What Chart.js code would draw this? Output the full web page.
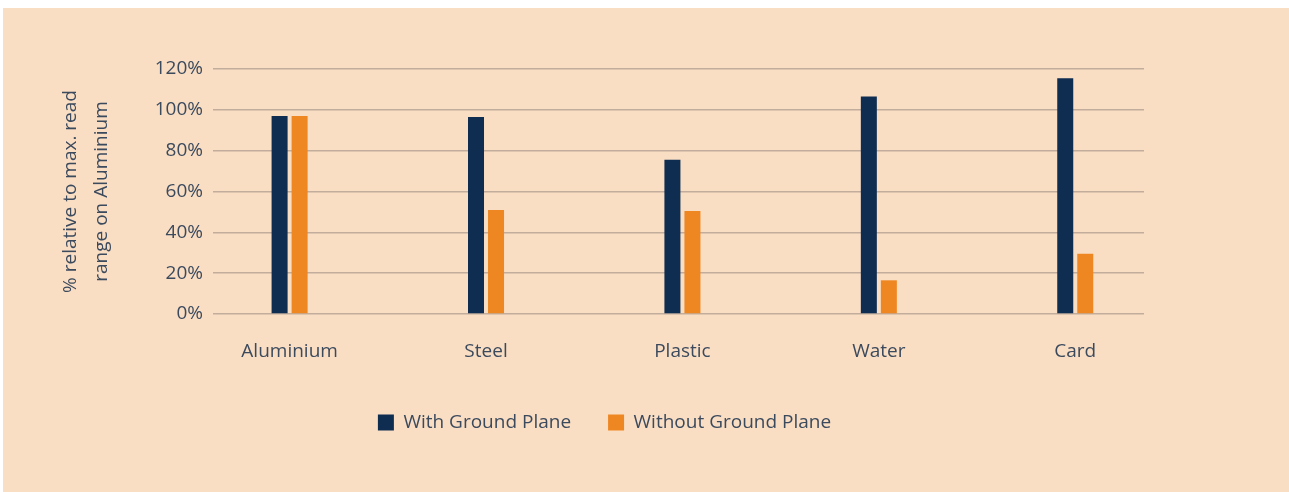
<!DOCTYPE html>
<html>
<head>
<meta charset="utf-8">
<script src="https://cdn.jsdelivr.net/npm/chart.js@4"></script>
<style>
  html, body { margin: 0; padding: 0; background: #ffffff; }
  #wrap { position: absolute; left: 3px; top: 8px; width: 1286px; height: 484px; background: #FADEC4; }
  canvas { display: block; }
</style>
</head>
<body>
<div id="wrap"><canvas id="c" width="1286" height="484"></canvas></div>
<script>
const categories = ["Aluminium", "Steel", "Plastic", "Water", "Card"];
const withGroundPlane = [97, 96.5, 75.5, 106.5, 115.5];
const withoutGroundPlane = [97, 51, 50.5, 16.5, 29.5];
const yTicks = [0, 20, 40, 60, 80, 100, 120];

const TEXT = '#3B4A5D';
const FONT = '"Open Sans", sans-serif';

new Chart(document.getElementById('c'), {
  type: 'bar',
  data: {
    datasets: [
      {
        label: 'With Ground Plane',
        data: categories.map((c, i) => ({ x: i, y: withGroundPlane[i] })),
        backgroundColor: '#0E2D50',
        categoryPercentage: 0.2038,
        barPercentage: 0.8
      },
      {
        label: 'Without Ground Plane',
        data: categories.map((c, i) => ({ x: i, y: withoutGroundPlane[i] })),
        backgroundColor: '#EE8722',
        categoryPercentage: 0.2038,
        barPercentage: 0.8
      }
    ]
  },
  options: {
    responsive: false,
    animation: false,
    devicePixelRatio: 1,
    layout: { padding: { left: 62, right: 145, top: 61, bottom: 50 } },
    plugins: {
      tooltip: { enabled: false },
      legend: {
        position: 'bottom',
        labels: {
          color: TEXT,
          font: { family: FONT, size: 19 },
          boxWidth: 16,
          boxHeight: 16,
          padding: 37
        }
      }
    },
    scales: {
      x: {
        type: 'linear',
        offset: false,
        min: -0.39,
        max: 4.35,
        afterBuildTicks: (scale) => { scale.ticks = categories.map((c, i) => ({ value: i })); },
        afterFit: (scale) => { scale.height = 62; },
        grid: { display: false, drawTicks: false, offset: false },
        border: { display: false },
        ticks: {
          color: TEXT,
          font: { family: FONT, size: 19 },
          padding: 26,
          maxRotation: 0,
          autoSkip: false,
          callback: (v) => categories[v]
        }
      },
      y: {
        min: 0,
        max: 120,
        afterBuildTicks: (scale) => { scale.ticks = yTicks.map(v => ({ value: v })); },
        afterFit: (scale) => { scale.width = 148; },
        grid: { color: '#C2AC9C', lineWidth: 1.4, drawTicks: false },
        border: { display: false },
        ticks: {
          color: TEXT,
          font: { family: FONT, size: 19 },
          padding: 10,
          callback: (v) => v + '%'
        },
        title: {
          display: true,
          text: ['% relative to max. read', 'range on Aluminium'],
          color: TEXT,
          font: { family: FONT, size: 19, lineHeight: 1.63 },
          padding: { top: -10, bottom: 0 }
        }
      }
    }
  }
});
</script>
</body>
</html>
